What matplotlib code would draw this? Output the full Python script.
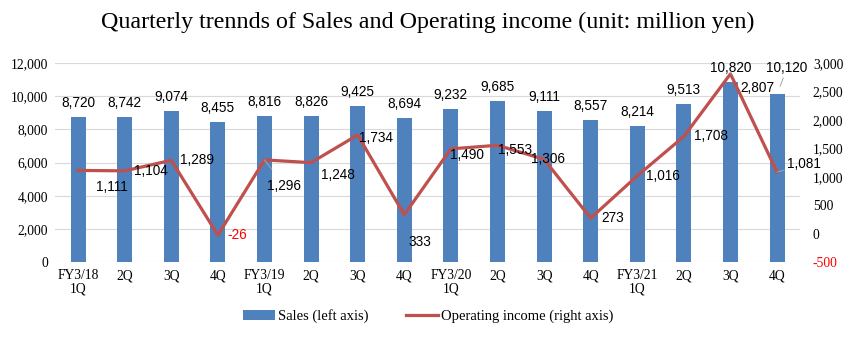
import matplotlib.pyplot as plt
import numpy as np

quarters = ["FY3/18\n1Q", "2Q", "3Q", "4Q", "FY3/19\n1Q", "2Q", "3Q", "4Q",
            "FY3/20\n1Q", "2Q", "3Q", "4Q", "FY3/21\n1Q", "2Q", "3Q", "4Q"]
sales = [8720, 8742, 9074, 8455, 8816, 8826, 9425, 8694,
         9232, 9685, 9111, 8557, 8214, 9513, 10820, 10120]
op_income = [1111, 1104, 1289, -26, 1296, 1248, 1734, 333,
             1490, 1553, 1306, 273, 1016, 1708, 2807, 1081]

# label offsets in pixels (dx, dy), dy positive = up
inc_off = [(34, -17), (26, 0), (26, 0), (19, 0), (20, -26), (27, -12), (18, -3), (16, -27),
           (16, -6), (18, -5), (4, 0), (22, 0), (26, 0), (27, 0), (27, -14), (27, 8)]
inc_leader = [4, 14, 15]
sales_off = [14] * 15 + [26]

blue = "#4F81BD"
red = "#C0504D"
serif = "Liberation Serif"
sans = "Liberation Sans"

fig = plt.figure(figsize=(8.56, 3.40), dpi=100)
ax = fig.add_axes([0.064, 0.229, 0.871, 0.586])
ax2 = ax.twinx()

x = np.arange(len(quarters))
ax.bar(x, sales, width=0.32, color=blue, zorder=2, label="Sales (left axis)")
ax2.plot(x, op_income, color=red, lw=2.3, zorder=3, label="Operating income (right axis)")

ax.set_xlim(-0.5, len(quarters) - 0.5)
ax.set_ylim(0, 12000)
ax.set_yticks(np.arange(0, 12001, 2000))
ax.set_yticklabels([f"{v:,}" for v in range(0, 12001, 2000)], fontfamily=serif, fontsize=9.8)
ax2.set_ylim(-500, 3000)
ax2.set_yticks(np.arange(-500, 3001, 500))
ax2.set_yticklabels([f"{v:,}" for v in range(-500, 3001, 500)], fontfamily=serif, fontsize=9.8)
ax2.get_yticklabels()[0].set_color("red")
ax.set_xticks(x)
ax.set_xticklabels(quarters, fontfamily=serif, fontsize=9.8, linespacing=1.05)
ax.grid(axis="y", color="#D9D9D9", lw=0.8, zorder=0)
for a in (ax, ax2):
    for s in a.spines.values():
        s.set_visible(False)
    a.tick_params(length=0)
ax.tick_params(axis="y", pad=5)
ax2.tick_params(axis="y", pad=9)
ax.tick_params(axis="x", pad=5)

for i, v in enumerate(sales):
    if i == 15:
        ax2.annotate(f"{v:,}", xy=(i, v / 12000 * 3500 - 500), xytext=(10, sales_off[i]),
                     textcoords="offset pixels", ha="center", va="center",
                     fontfamily=sans, fontsize=9.8,
                     arrowprops=dict(arrowstyle="-", color="#A6A6A6", lw=0.7, shrinkA=0, shrinkB=6))
    else:
        ax.annotate(f"{v:,}", xy=(i, v), xytext=(0, sales_off[i]), textcoords="offset pixels",
                    ha="center", va="center", fontfamily=sans, fontsize=9.8)

for i, v in enumerate(op_income):
    dx, dy = inc_off[i]
    kw = {}
    if i in inc_leader:
        kw["arrowprops"] = dict(arrowstyle="-", color="#A6A6A6", lw=0.7, shrinkA=6, shrinkB=0)
    ax2.annotate(f"{v:,}", xy=(i, v), xytext=(dx, dy), textcoords="offset pixels",
                 ha="center", va="center", fontfamily=sans, fontsize=9.8,
                 color="red" if v < 0 else "black", zorder=5, **kw)

fig.suptitle("Quarterly trennds of Sales and Operating income (unit: million yen)",
             fontfamily=serif, fontsize=17.3, y=0.965)

h1, l1 = ax.get_legend_handles_labels()
h2, l2 = ax2.get_legend_handles_labels()
fig.legend(h1 + h2, l1 + l2, loc="center", bbox_to_anchor=(0.5, 0.07), ncol=2,
           frameon=False, prop={"family": serif, "size": 10.5}, handlelength=2.2,
           handletextpad=0.2, columnspacing=2.6)

fig.savefig("out.png", dpi=100)
